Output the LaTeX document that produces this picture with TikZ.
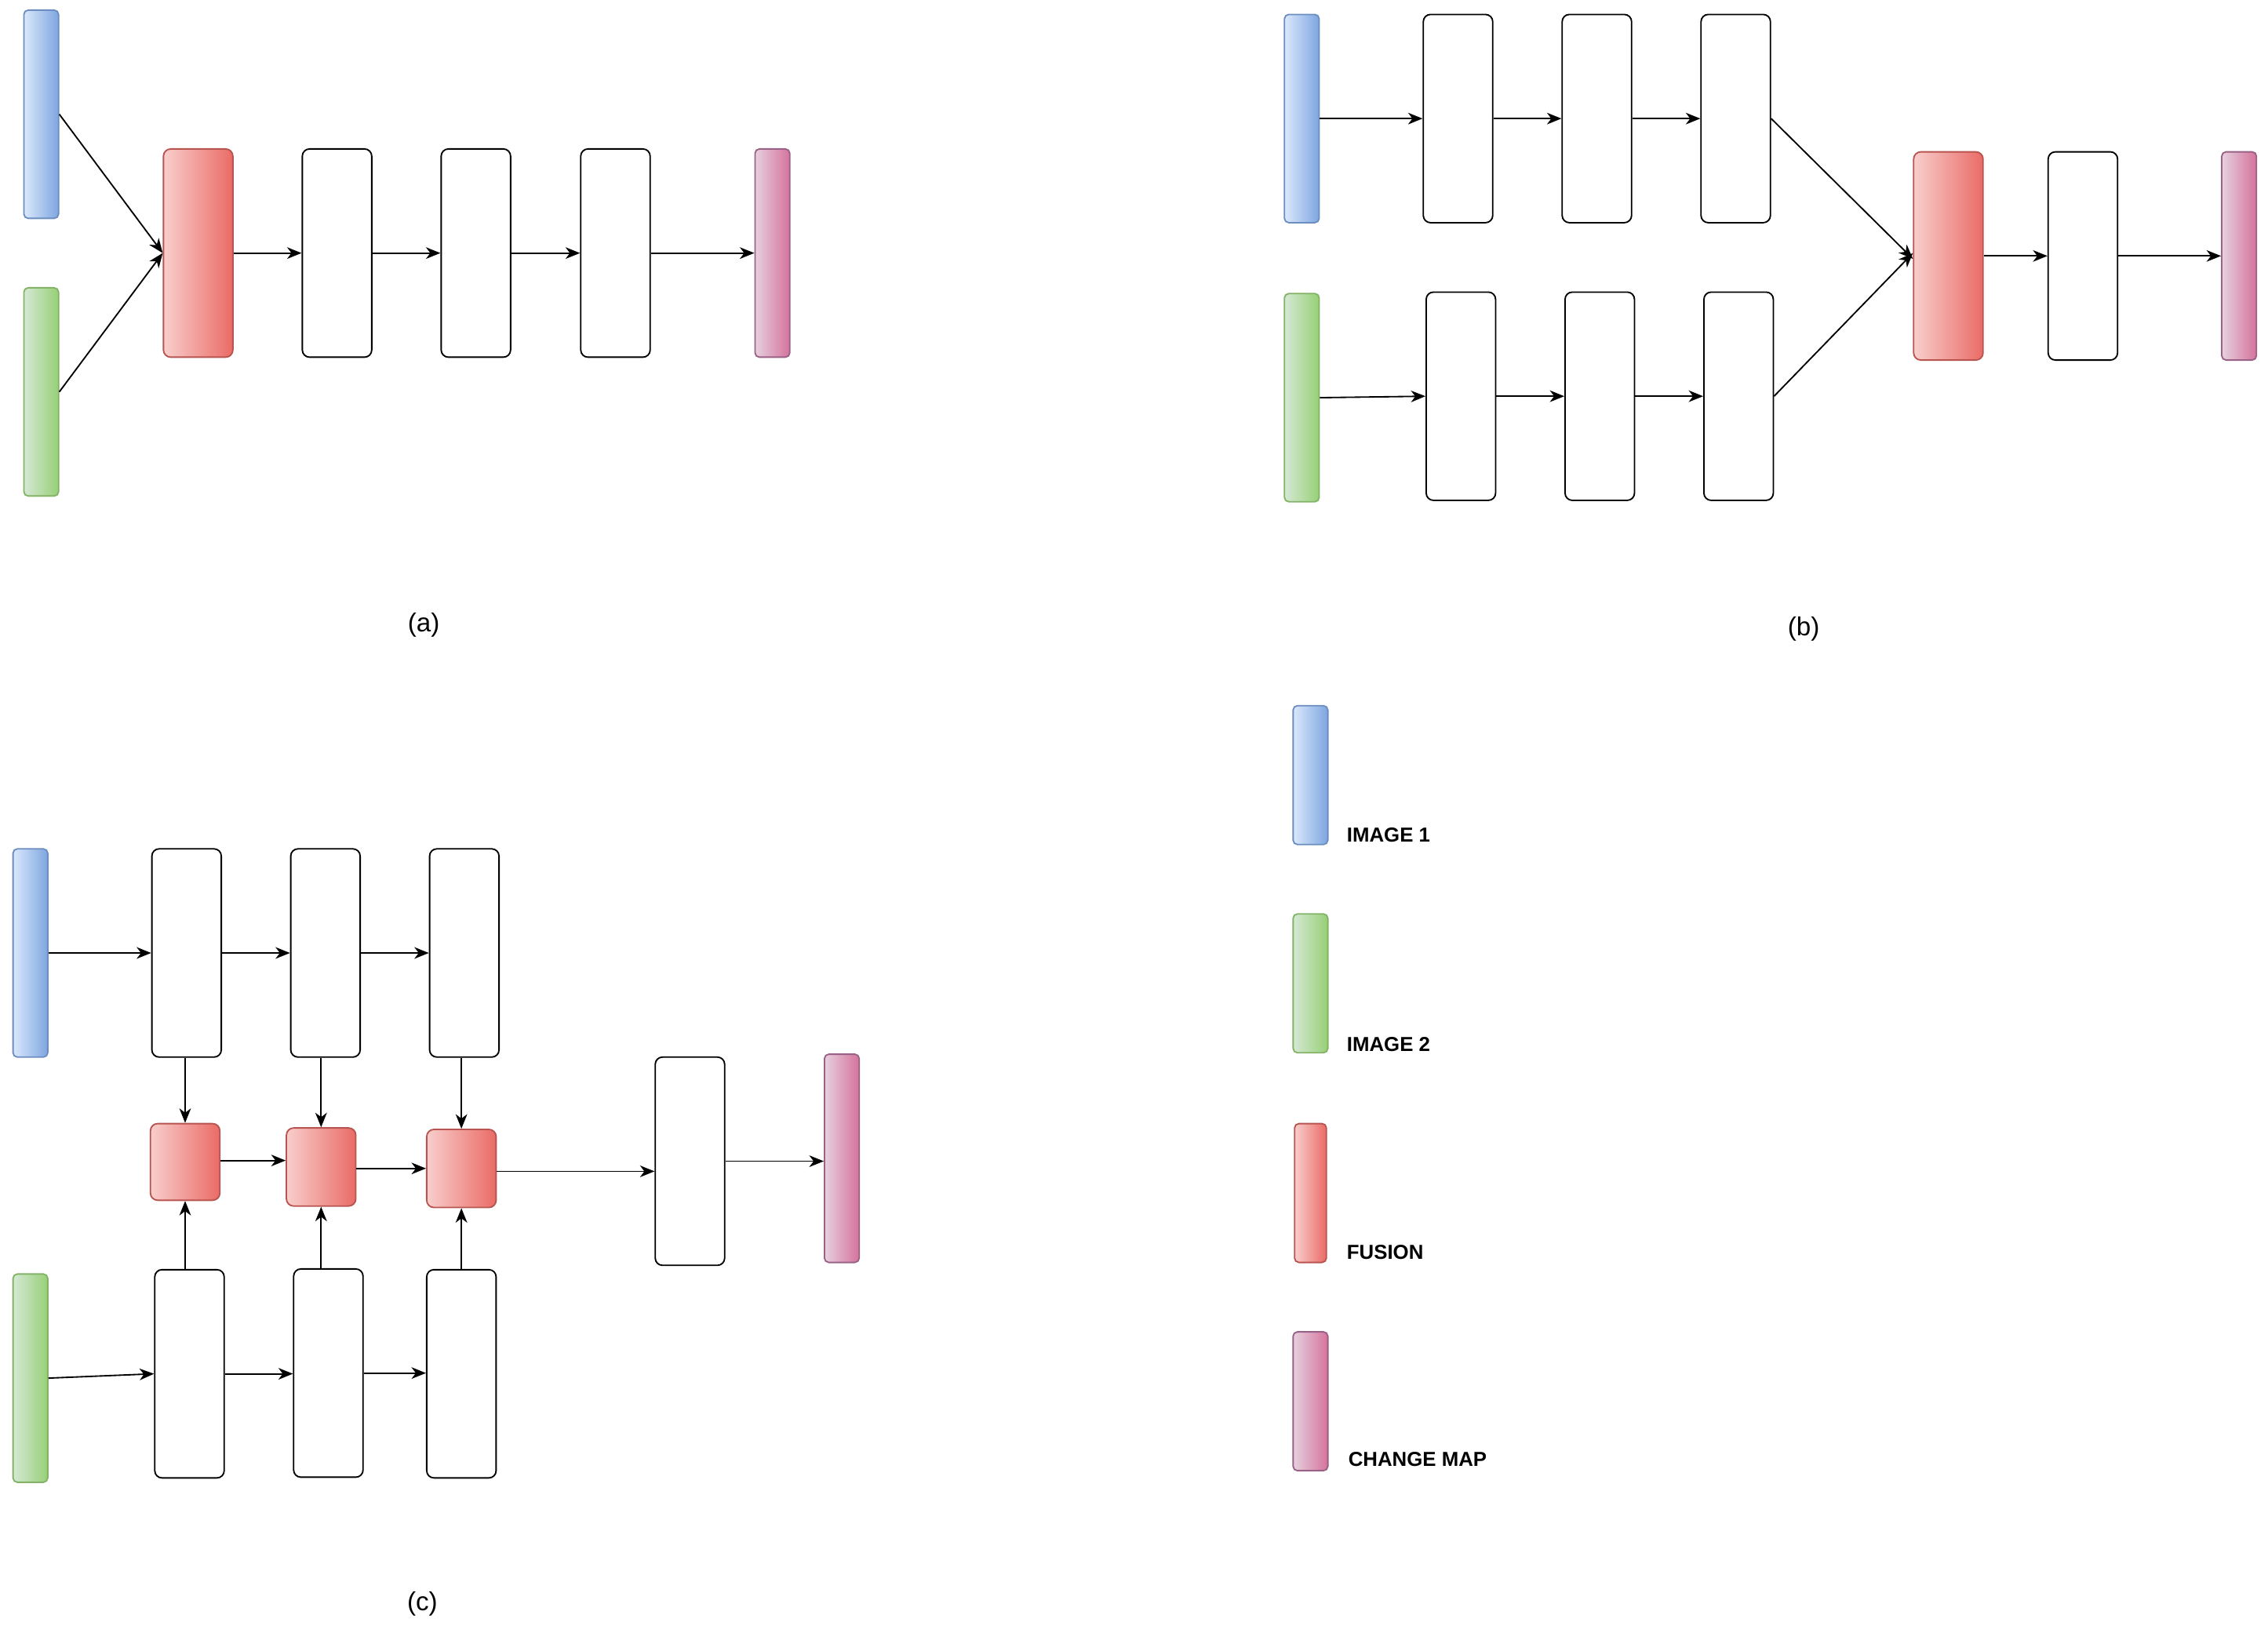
\documentclass[tikz,border=0pt]{standalone}
\usepackage{fontspec}
\setmainfont{Liberation Sans}
\usetikzlibrary{arrows.meta}
\definecolor{bluel}{HTML}{DAE8FC}\definecolor{blued}{HTML}{7EA6E0}\definecolor{bluee}{HTML}{6C8EBF}
\definecolor{greenl}{HTML}{D5E8D4}\definecolor{greend}{HTML}{97D077}\definecolor{greene}{HTML}{82B366}
\definecolor{redl}{HTML}{F8CECC}\definecolor{redd}{HTML}{EA6B66}\definecolor{rede}{HTML}{B85450}
\definecolor{pinkl}{HTML}{E6D0DE}\definecolor{pinkd}{HTML}{D5739D}\definecolor{pinke}{HTML}{996185}
\tikzset{
  base/.style={rectangle, inner sep=0pt, line width=1pt, draw},
  wbox/.style={base, draw=black, fill=white, rounded corners=5pt, minimum width=48pt, minimum height=144pt},
  bar/.style={base, rounded corners=3pt, minimum width=24pt, minimum height=144pt},
  img1/.style={bar, draw=bluee, left color=bluel, right color=blued},
  img2/.style={bar, draw=greene, left color=greenl, right color=greend},
  cmap/.style={bar, draw=pinke, left color=pinkl, right color=pinkd},
  fus/.style={base, draw=rede, left color=redl, right color=redd, rounded corners=5pt, minimum width=48pt, minimum height=144pt},
  sfus/.style={fus, minimum height=53pt},
  arr/.style={line width=1pt, -{Stealth[length=10pt,width=8pt,inset=3pt]}},
  sublabel/.style={font=\fontsize{18}{20}\selectfont},
  leg/.style={font=\fontsize{14}{16}\selectfont\bfseries, anchor=base west, inner sep=0pt},
}
\begin{document}
\begin{tikzpicture}[x=1pt,y=-1pt]
\useasboundingbox (0,0) rectangle (1568,1134);
% ---------- (a)
\node[img1] (a1) at (28.5,79) {};
\node[img2] (a2) at (28.5,271) {};
\node[fus] (af) at (137,175) {};
\node[wbox] (aw1) at (233,175) {};
\node[wbox] (aw2) at (329,175) {};
\node[wbox] (aw3) at (425.5,175) {};
\node[cmap] (am) at (534,175) {};
\draw[arr] (a1.east) -- (af.west);
\draw[arr] (a2.east) -- (af.west);
\draw[arr] (af) -- (aw1);
\draw[arr] (aw1) -- (aw2);
\draw[arr] (aw2) -- (aw3);
\draw[arr] (aw3) -- (am);
\node[sublabel] (la) at (293,432) {(a)};
% ---------- (b)
\node[img1] (b1) at (900,82) {};
\node[wbox] (bw1) at (1008,82) {};
\node[wbox] (bw2) at (1104,82) {};
\node[wbox] (bw3) at (1200,82) {};
\node[img2] (b2) at (900,275) {};
\node[wbox] (bv1) at (1010,274) {};
\node[wbox] (bv2) at (1106,274) {};
\node[wbox] (bv3) at (1202,274) {};
\node[fus] (bf) at (1347,177) {};
\node[wbox] (bw) at (1440,177) {};
\node[cmap] (bm) at (1548,177) {};
\draw[arr] (b1) -- (bw1);
\draw[arr] (bw1) -- (bw2);
\draw[arr] (bw2) -- (bw3);
\draw[arr] (bw3.east) -- ([yshift=-2pt]bf.west);
\draw[arr] (b2.east) -- (bv1.west);
\draw[arr] (bv1) -- (bv2);
\draw[arr] (bv2) -- (bv3);
\draw[arr] (bv3.east) -- ([yshift=2pt]bf.west);
\draw[arr] (bf) -- (bw);
\draw[arr] (bw) -- (bm);
\node[sublabel] (lb) at (1247,435) {(b)};
% ---------- (c)
\node[img1] (c1) at (21,659) {};
\node[wbox] (cw1) at (129,659) {};
\node[wbox] (cw2) at (225,659) {};
\node[wbox] (cw3) at (321,659) {};
\node[img2] (c2) at (21,953) {};
\node[wbox] (cv1) at (131,950) {};
\node[wbox] (cv2) at (227,949.5) {};
\node[wbox] (cv3) at (319,950) {};
\node[sfus] (cf1) at (128,803.5) {};
\node[sfus, minimum height=54pt] (cf2) at (222,807) {};
\node[sfus, minimum height=54pt] (cf3) at (319,808) {};
\node[wbox] (cw) at (477,803) {};
\node[cmap] (cm) at (582,801) {};
\draw[arr] (c1) -- (cw1);
\draw[arr] (cw1) -- (cw2);
\draw[arr] (cw2) -- (cw3);
\draw[arr] (c2.east) -- (cv1.west);
\draw[arr] (cv1) -- (cv1 -| cv2.west);
\draw[arr] (cv2) -- (cv2 -| cv3.west);
\draw[arr] (cf1.north |- cw1.south) -- (cf1.north);
\draw[arr] (cf2.north |- cw2.south) -- (cf2.north);
\draw[arr] (cf3.north |- cw3.south) -- (cf3.north);
\draw[arr] (cf1.south |- cv1.north) -- (cf1.south);
\draw[arr] (cf2.south |- cv2.north) -- (cf2.south);
\draw[arr] (cf3.south |- cv3.north) -- (cf3.south);
\draw[arr] ([yshift=1pt]cf1.east) -- ([yshift=1pt]cf1.east -| cf2.west);
\draw[arr] ([yshift=-1pt]cf2.east) -- ([yshift=-1pt]cf2.east -| cf3.west);
\draw[arr] ([yshift=-2pt]cf3.east) -- ([yshift=-2pt]cf3.east -| cw.west);
\draw[arr] (cw) -- (cw -| cm.west);
\node[sublabel] (lc) at (292,1109) {(c)};
% ---------- legend
\node[img1, minimum height=96pt] (k1) at (906,536) {};
\node[img2, minimum height=96pt] (k2) at (906,680) {};
\node[fus, minimum width=22pt, minimum height=96pt, rounded corners=3pt] (k3) at (906,825) {};
\node[cmap, minimum height=96pt] (k4) at (906,969) {};
\node[leg] (t1) at (931,582) {IMAGE 1};
\node[leg] (t2) at (931,727) {IMAGE 2};
\node[leg] (t3) at (931,871) {FUSION};
\node[leg] (t4) at (932,1014) {CHANGE MAP};
\end{tikzpicture}
\end{document}
